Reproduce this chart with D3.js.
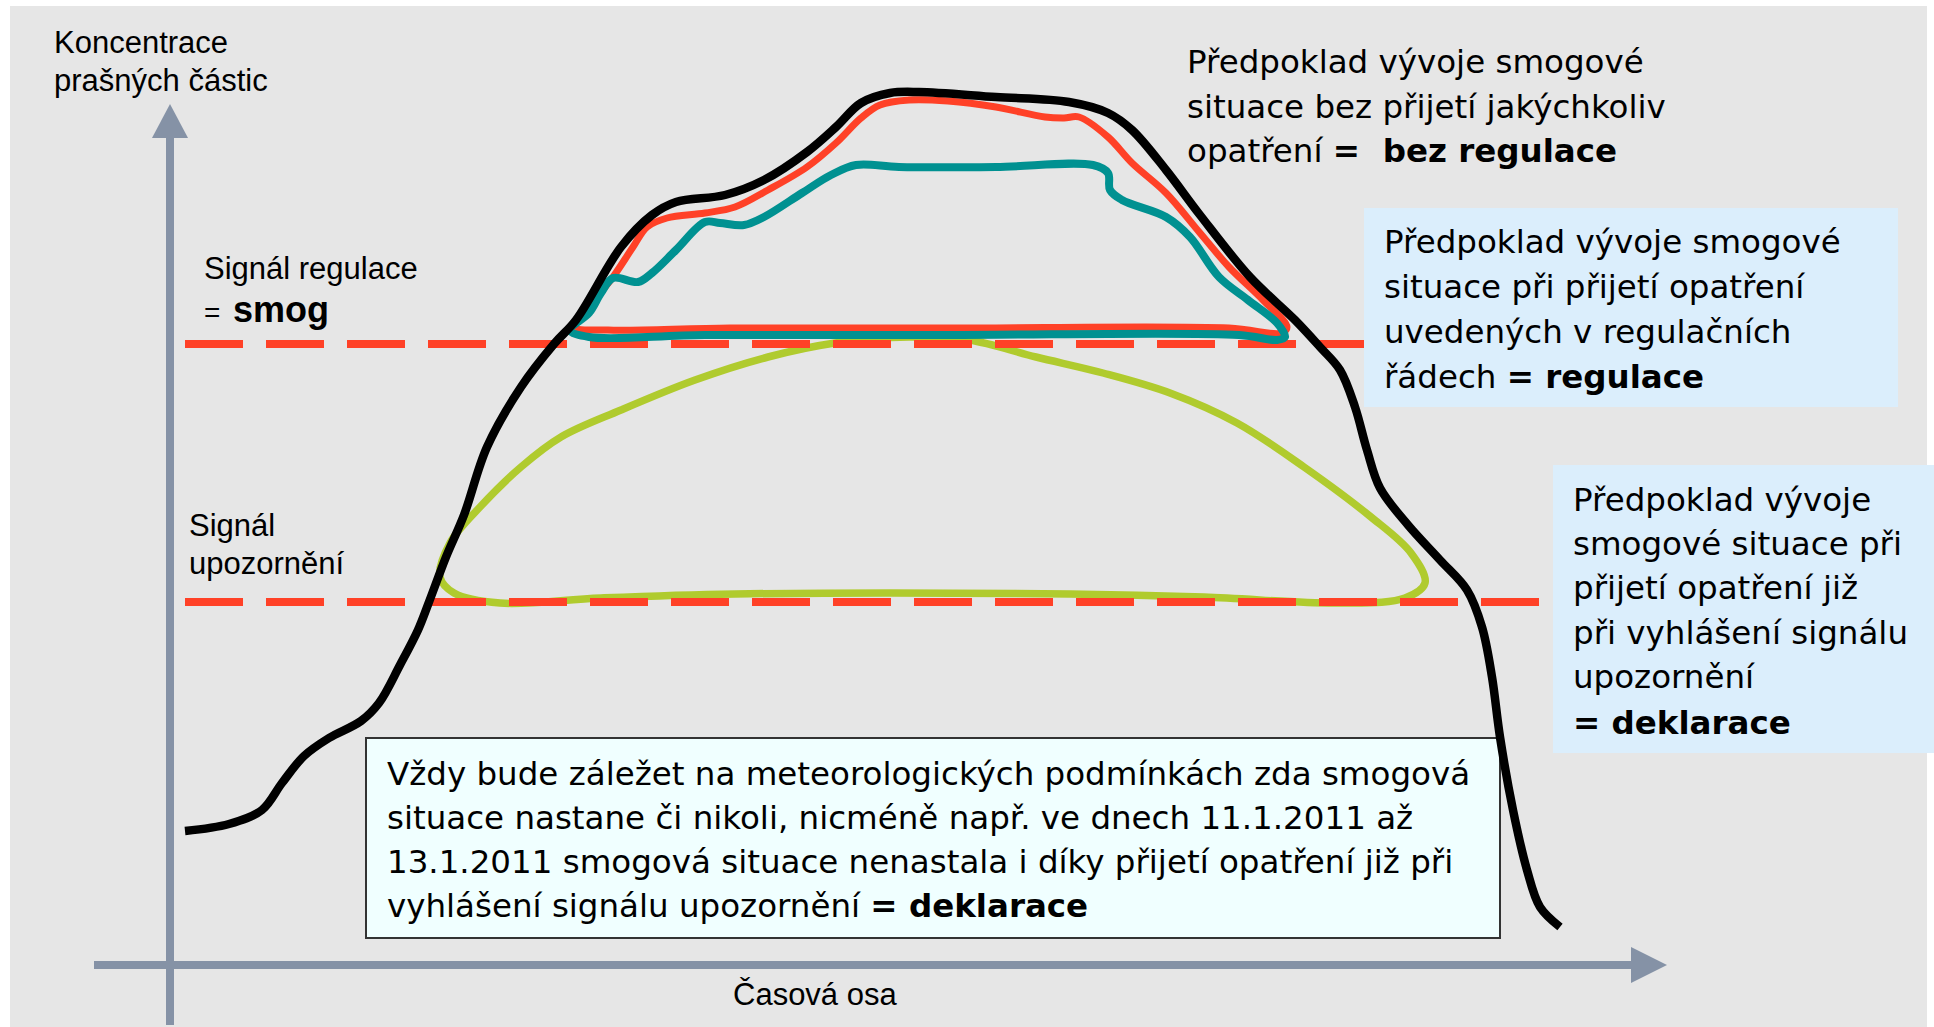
<!DOCTYPE html>
<meta charset="utf-8">
<script src="https://d3js.org/d3.v7.min.js"></script>
<style>
    body { margin: 0; background: #ffffff; }
    svg { display: block; }
</style>
<div id="chart"></div>
<script>

    // time axis (t) and concentration axis (c), abstract units
    var axisTime = [-7.6, 146.1, 149.7];     // start, arrow base, arrow tip
    var axisConc = [-6, 82.7, 86.1];

    // thresholds: regulation signal and warning signal
    var thresholds = [
        { name: "regulace", c: 62.1, t0: 1.5, t1: 119.4 },
        { name: "upozorneni", c: 36.3, t0: 1.5, t1: 136.9 }
    ];

    // bez regulace (black)
    var blackT = [1.5, 5.9, 9.2, 11.2, 13.4, 15.9, 19.1, 20.9, 23.0, 24.8, 25.9, 27.6, 29.4, 31.7, 35.1, 38.4, 40.6, 45.1, 48.2, 50.6, 55.5, 59.4, 63.7, 66.6, 69.1, 72.0, 74.9, 82.6, 89.9, 93.8, 96.2, 99.6, 103.0, 108.0, 112.5, 115.0, 117.0, 118.5, 119.7, 121.0, 123.8, 127.0, 129.7, 131.2, 132.2, 133.0, 134.3, 135.7, 137.0, 139.0];
    var blackC = [13.4, 14.1, 15.5, 18.2, 20.9, 22.7, 24.4, 26.2, 30.0, 33.5, 36.3, 40.8, 45.0, 51.8, 57.8, 62.1, 64.5, 71.8, 75.0, 76.3, 77.0, 78.5, 81.3, 83.8, 86.2, 87.2, 87.3, 86.8, 86.3, 85.2, 83.5, 79.5, 75.0, 68.8, 64.5, 61.8, 59.5, 55.8, 51.5, 47.7, 44.0, 40.5, 37.5, 33.8, 28.8, 22.8, 15.5, 9.5, 5.8, 3.8];

    // regulace (red loop)
    var redT = [40.5, 41.9, 44.3, 46.3, 47.7, 49.7, 53.5, 56.5, 59.8, 63.7, 66.6, 69.1, 71.0, 73.9, 77.8, 82.6, 87.5, 89.4, 90.9, 93.8, 96.2, 99.6, 103.0, 105.9, 109.3, 111.7, 111.2, 105.9, 77.8, 56.0, 43.8];
    var redC = [63.8, 65.8, 68.8, 71.8, 73.8, 74.7, 75.2, 75.8, 77.5, 79.8, 82.2, 84.7, 86.0, 86.5, 86.4, 85.8, 84.8, 84.7, 84.8, 82.8, 80.2, 77.2, 73.2, 69.8, 66.5, 63.8, 63.2, 63.7, 63.7, 63.7, 63.5];

    // regulace (teal loop)
    var tealT = [40.0, 41.9, 43.1, 44.3, 46.8, 48.2, 50.6, 53.5, 55.0, 57.4, 59.4, 63.2, 66.1, 68.6, 72.9, 82.6, 92.3, 93.8, 94.0, 95.2, 99.6, 102.0, 104.9, 107.8, 110.7, 111.5, 110.7, 106.9, 77.8, 53.5, 41.9];
    var tealC = [63.5, 65.2, 67.2, 68.7, 68.3, 69.2, 71.5, 74.3, 74.2, 74.0, 74.8, 77.2, 79.0, 80.0, 79.8, 79.8, 80.0, 79.2, 77.5, 76.5, 74.8, 72.8, 68.8, 66.5, 64.2, 62.8, 62.5, 63.0, 63.0, 63.0, 62.8];

    // deklarace (green loop)
    var greenT = [73.9, 66.5, 59.8, 52.5, 45.1, 39.1, 35.1, 31.0, 28.0, 27.0, 28.4, 33.0, 43.1, 56.5, 90.0, 103.4, 116.8, 123.5, 125.5, 124.1, 120.1, 113.4, 106.7, 100.0, 93.3, 86.6, 79.9];
    var greenC = [62.8, 62.2, 60.8, 58.5, 55.5, 52.8, 49.8, 45.8, 42.2, 38.8, 37.2, 36.2, 36.7, 37.1, 37.1, 36.8, 36.2, 36.7, 38.2, 41.2, 44.8, 49.8, 54.2, 57.2, 59.2, 60.8, 62.5];

    var width = 1934, height = 1027;

    var svg = d3.select("#chart")
        .append("svg")
        .attr("width", width)
        .attr("height", height);

    var x = d3.scaleLinear().domain([0, 150]).range([170, 1670]);
    var y = d3.scaleLinear().domain([0, 100]).range([965, -35]);

    function pts(ts, cs) { return ts.map(function (t, i) { return [t, cs[i]]; }); }

    // grey panel
    svg.append("rect")
        .attr("x", 10).attr("y", 6)
        .attr("width", 1917).attr("height", 1021)
        .attr("fill", "#e6e6e6");

    var axisColor = "#8592a6";

    // Y axis with arrow
    svg.append("line")
        .attr("x1", x(0)).attr("x2", x(0))
        .attr("y1", y(axisConc[0])).attr("y2", y(axisConc[1]))
        .attr("stroke", axisColor).attr("stroke-width", 8);
    svg.append("path")
        .attr("d", "M" + (x(0) - 18) + "," + y(axisConc[1]) + "L" + (x(0) + 18) + "," + y(axisConc[1]) + "L" + x(0) + "," + y(axisConc[2]) + "Z")
        .attr("fill", axisColor);

    // X axis with arrow
    svg.append("line")
        .attr("x1", x(axisTime[0])).attr("x2", x(axisTime[1]))
        .attr("y1", y(0)).attr("y2", y(0))
        .attr("stroke", axisColor).attr("stroke-width", 8);
    svg.append("path")
        .attr("d", "M" + x(axisTime[1]) + "," + (y(0) - 18) + "L" + x(axisTime[1]) + "," + (y(0) + 18) + "L" + x(axisTime[2]) + "," + y(0) + "Z")
        .attr("fill", axisColor);

    var loop = d3.line()
        .x(function (d) { return x(d[0]); })
        .y(function (d) { return y(d[1]); })
        .curve(d3.curveCatmullRomClosed.alpha(0.5));

    var open = d3.line()
        .x(function (d) { return x(d[0]); })
        .y(function (d) { return y(d[1]); })
        .curve(d3.curveCatmullRom.alpha(0.5));

    // green loop (under the dashes)
    svg.append("path")
        .attr("d", loop(pts(greenT, greenC)))
        .attr("fill", "none").attr("stroke", "#b0cb2e").attr("stroke-width", 7.5);

    // threshold dashes
    svg.selectAll(".thr")
        .data(thresholds)
        .enter()
        .append("line")
        .attr("x1", function (d) { return x(d.t0); })
        .attr("x2", function (d) { return x(d.t1); })
        .attr("y1", function (d) { return y(d.c); })
        .attr("y2", function (d) { return y(d.c); })
        .attr("stroke", "#ff4127")
        .attr("stroke-width", 8)
        .attr("stroke-dasharray", "58 23");

    svg.append("path")
        .attr("d", loop(pts(redT, redC)))
        .attr("fill", "none").attr("stroke", "#ff4127").attr("stroke-width", 7)
        .attr("stroke-linejoin", "round");

    svg.append("path")
        .attr("d", loop(pts(tealT, tealC)))
        .attr("fill", "none").attr("stroke", "#009191").attr("stroke-width", 8)
        .attr("stroke-linejoin", "round");

    // boxes
    svg.append("rect")
        .attr("x", 1364).attr("y", 208).attr("width", 534).attr("height", 199)
        .attr("fill", "#dbeefc");
    svg.append("rect")
        .attr("x", 1553).attr("y", 465).attr("width", 381).attr("height", 288)
        .attr("fill", "#dbeefc");
    svg.append("rect")
        .attr("x", 366).attr("y", 738).attr("width", 1134).attr("height", 200)
        .attr("fill", "#f0ffff").attr("stroke", "#333333").attr("stroke-width", 2);

    // black curve on top
    svg.append("path")
        .attr("d", open(pts(blackT, blackC)))
        .attr("fill", "none").attr("stroke", "#000000").attr("stroke-width", 8.5)
        .attr("stroke-linecap", "butt").attr("stroke-linejoin", "round");

    // left labels (Arial-like)
    var sans = "'Liberation Sans', Arial, sans-serif";
    function label(txt, px, py, size, weight) {
        svg.append("text")
            .attr("x", px).attr("y", py)
            .style("font-family", sans)
            .style("font-size", size + "px")
            .style("font-weight", weight || "normal")
            .attr("fill", "#000")
            .text(txt);
    }
    label("Koncentrace", 54, 53, 31);
    label("prašných částic", 54, 91, 31);
    label("Signál regulace", 204, 279, 31);
    label("=", 204, 322, 28);
    label("smog", 233, 322, 36, "bold");
    label("Signál", 189, 536, 31);
    label("upozornění", 189, 574, 31);
    label("Časová osa", 733, 1005, 31);

    // note blocks (Tahoma-like)
    var note = "'DejaVu Sans', Verdana, sans-serif";
    function block(lines, px, baselines, size) {
        var t = svg.append("text")
            .style("font-family", note)
            .style("font-size", size + "px")
            .style("white-space", "pre")
            .attr("fill", "#000");
        lines.forEach(function (parts, i) {
            parts.forEach(function (p, j) {
                var ts = t.append("tspan")
                    .style("font-weight", p[1] ? "bold" : "normal")
                    .text(p[0]);
                if (j === 0) ts.attr("x", px).attr("y", baselines[i]);
            });
        });
    }

    block([
        [["Předpoklad vývoje smogové"]],
        [["situace bez přijetí jakýchkoliv"]],
        [["opatření "], ["=\u00a0 bez regulace", true]]
    ], 1187, [73, 118, 162], 32.5);

    block([
        [["Předpoklad vývoje smogové"]],
        [["situace při přijetí opatření"]],
        [["uvedených v regulačních"]],
        [["řádech "], ["= regulace", true]]
    ], 1384, [253, 298, 343, 388], 32.5);

    block([
        [["Předpoklad vývoje"]],
        [["smogové situace při"]],
        [["přijetí opatření již"]],
        [["při vyhlášení signálu"]],
        [["upozornění"]],
        [["= deklarace", true]]
    ], 1573, [511, 555, 599, 644, 688, 734], 32.5);

    block([
        [["Vždy bude záležet na meteorologických podmínkách zda smogová"]],
        [["situace nastane či nikoli, nicméně např. ve dnech 11.1.2011 až"]],
        [["13.1.2011 smogová situace nenastala i díky přijetí opatření již při"]],
        [["vyhlášení signálu upozornění "], ["= deklarace", true]]
    ], 387, [785, 829, 873, 917], 32.5);

</script>
